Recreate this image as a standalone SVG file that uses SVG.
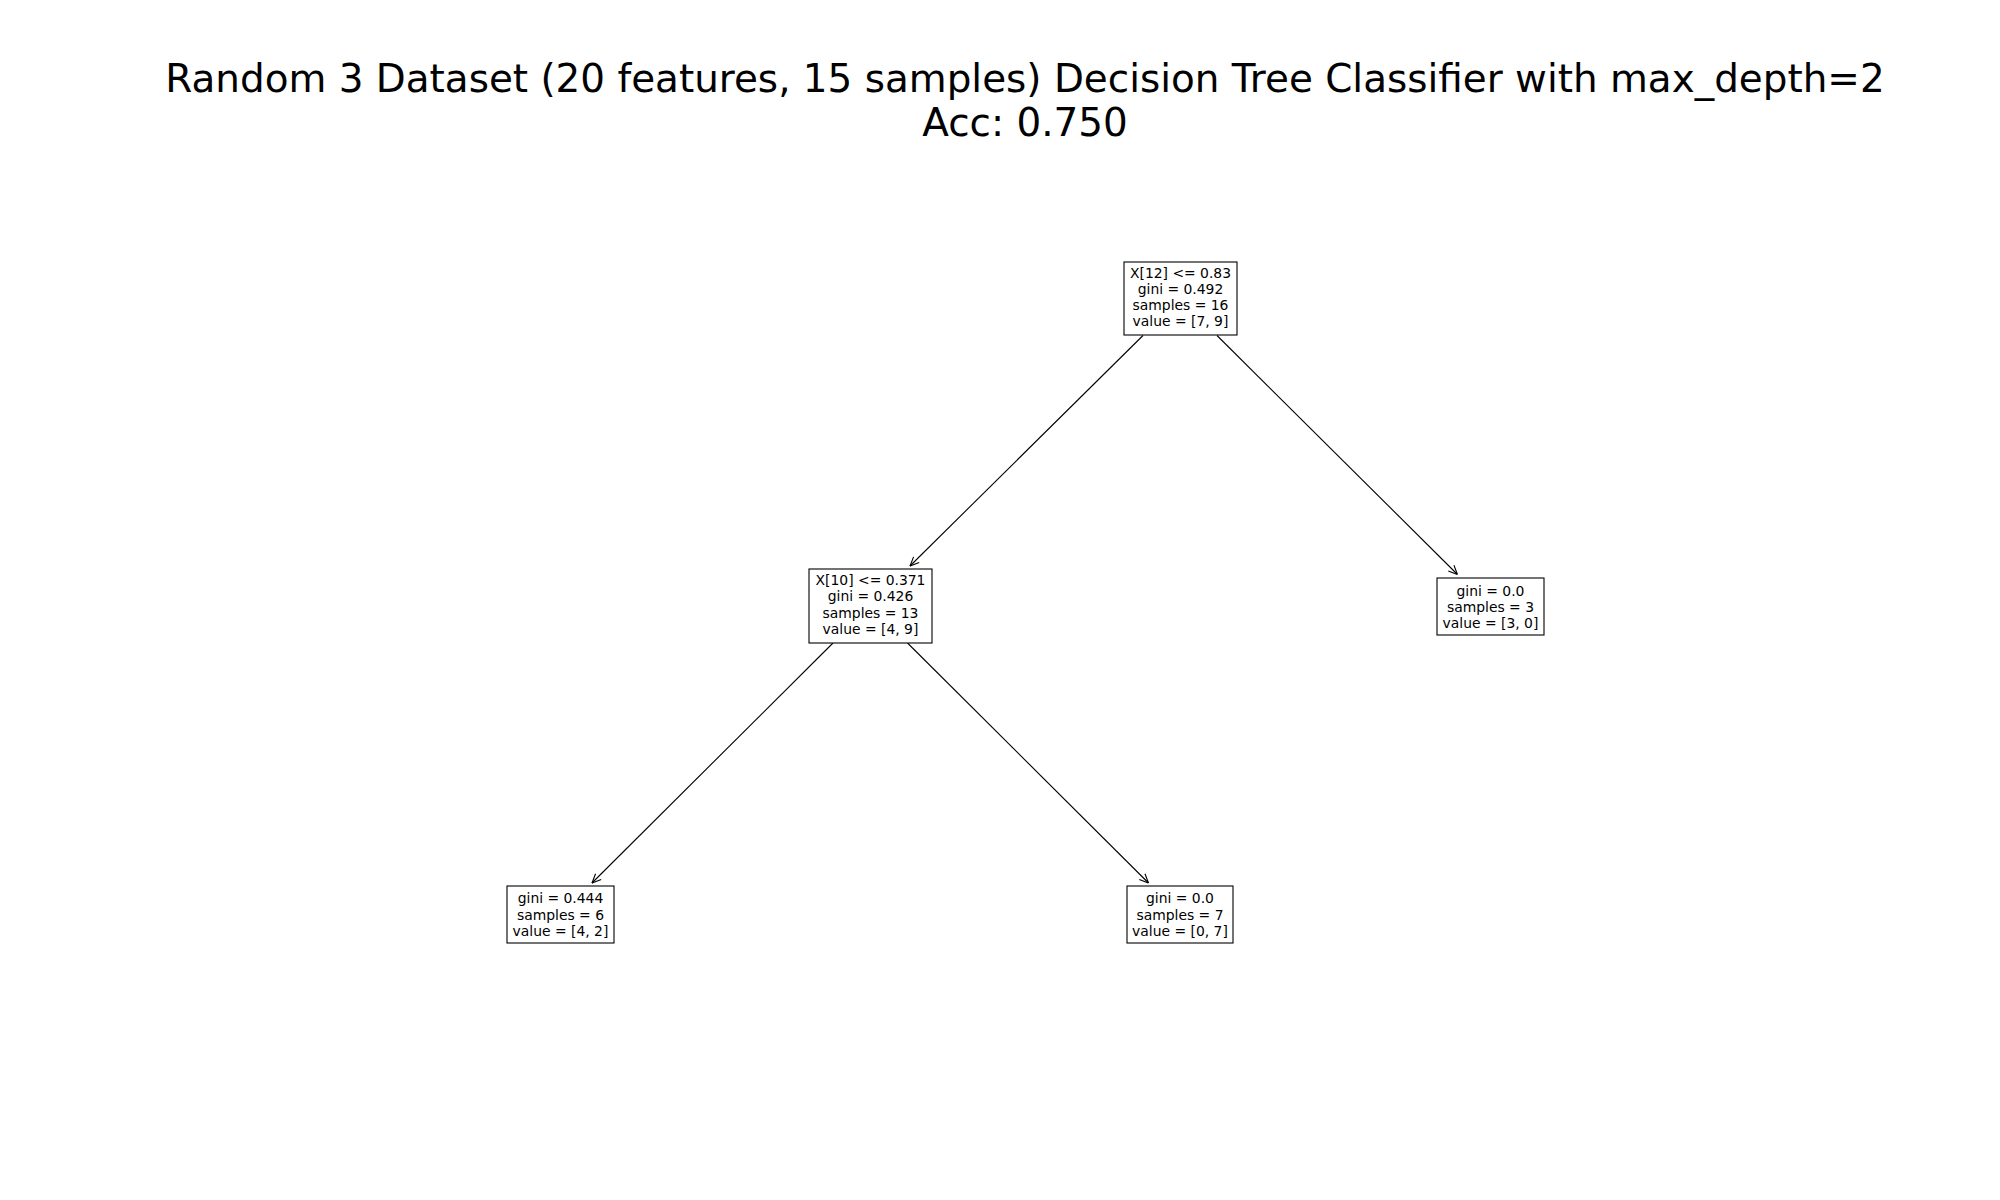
<svg xmlns="http://www.w3.org/2000/svg" width="2000" height="1200" viewBox="0 0 2000 1200">
<style>
.title{font-family:"DejaVu Sans",sans-serif;font-size:38.9px;fill:#000;text-anchor:middle}
.lbl{font-family:"DejaVu Sans",sans-serif;font-size:13.9px;fill:#000;text-anchor:middle}
.box{fill:#fff;stroke:#000;stroke-width:1.1}
.edge{stroke:#000;stroke-width:1.1;fill:none}
</style>
<defs>
<marker id="ah" viewBox="0 0 10 10" refX="10" refY="5" markerWidth="10" markerHeight="10" markerUnits="userSpaceOnUse" orient="auto">
<path d="M1,1 L10,5 L1,9" fill="none" stroke="#000" stroke-width="1.1"/>
</marker>
</defs>
<rect width="2000" height="1200" fill="#fff"/>
<text class="title" x="1025" y="92">Random 3 Dataset (20 features, 15 samples) Decision Tree Classifier with max_depth=2</text>
<text class="title" x="1025" y="136">Acc: 0.750</text>
<g id="connectors">
<line class="edge" x1="1143" y1="335.5" x2="910" y2="566" marker-end="url(#ah)"/>
<line class="edge" x1="1217" y1="335.5" x2="1457.5" y2="574.5" marker-end="url(#ah)"/>
<line class="edge" x1="833" y1="643" x2="592" y2="883" marker-end="url(#ah)"/>
<line class="edge" x1="907.5" y1="643" x2="1148.5" y2="883" marker-end="url(#ah)"/>
</g>
<g id="node-root">
<rect class="box" x="1124" y="262" width="113" height="73"/>
<text class="lbl" x="1180.5" y="277.5">X[12] &lt;= 0.83</text>
<text class="lbl" x="1180.5" y="293.8">gini = 0.492</text>
<text class="lbl" x="1180.5" y="310">samples = 16</text>
<text class="lbl" x="1180.5" y="326.2">value = [7, 9]</text>
</g>
<g id="node-left">
<rect class="box" x="809" y="569" width="123" height="74"/>
<text class="lbl" x="870.5" y="585">X[10] &lt;= 0.371</text>
<text class="lbl" x="870.5" y="601.3">gini = 0.426</text>
<text class="lbl" x="870.5" y="617.5">samples = 13</text>
<text class="lbl" x="870.5" y="633.7">value = [4, 9]</text>
</g>
<g id="node-right">
<rect class="box" x="1437" y="578" width="107" height="57"/>
<text class="lbl" x="1490.5" y="595.5">gini = 0.0</text>
<text class="lbl" x="1490.5" y="611.8">samples = 3</text>
<text class="lbl" x="1490.5" y="628">value = [3, 0]</text>
</g>
<g id="node-left-left">
<rect class="box" x="507" y="886" width="107" height="57"/>
<text class="lbl" x="560.5" y="903.3">gini = 0.444</text>
<text class="lbl" x="560.5" y="919.6">samples = 6</text>
<text class="lbl" x="560.5" y="935.8">value = [4, 2]</text>
</g>
<g id="node-left-right">
<rect class="box" x="1127" y="886" width="106" height="57"/>
<text class="lbl" x="1180" y="903.3">gini = 0.0</text>
<text class="lbl" x="1180" y="919.6">samples = 7</text>
<text class="lbl" x="1180" y="935.8">value = [0, 7]</text>
</g>
</svg>
